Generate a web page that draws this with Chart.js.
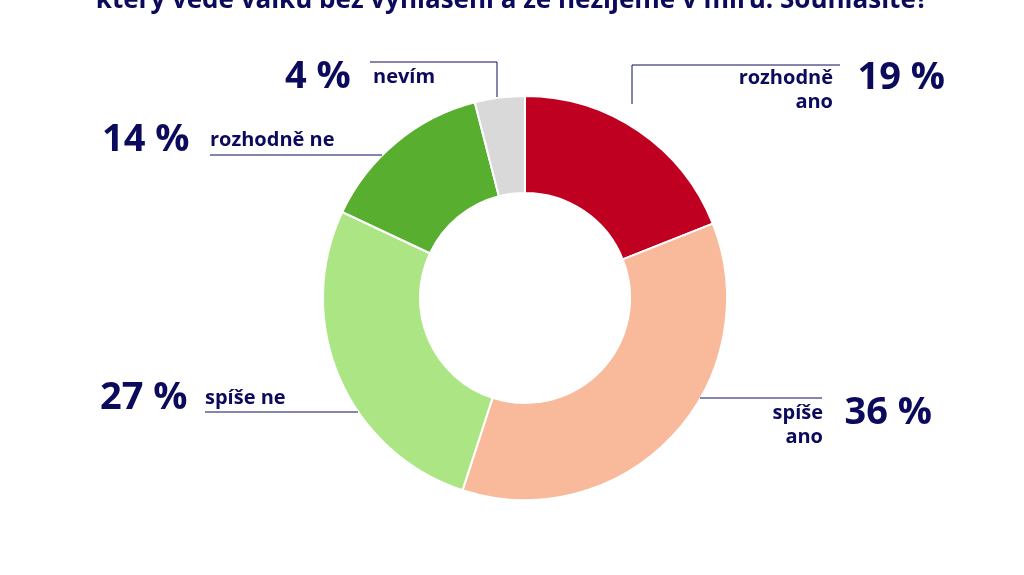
<!DOCTYPE html>
<html>
<head>
<meta charset="utf-8">
<script src="https://cdn.jsdelivr.net/npm/chart.js@4/dist/chart.umd.min.js"></script>
<style>
  html, body { margin: 0; padding: 0; background: #fff; }
  #wrap { width: 1024px; height: 575px; position: relative; }
</style>
</head>
<body>
<div id="wrap"><canvas id="pie"></canvas></div>
<script>
const categories = ['rozhodně ano', 'spíše ano', 'spíše ne', 'rozhodně ne', 'nevím'];
const values = [19, 36, 27, 14, 4];
const colors = ['#c00020', '#f9b99b', '#abe584', '#58ae2e', '#d9d9d9'];
const title = 'který vede válku bez vyhlášení a že nežijeme v míru. Souhlasíte?';

const navy = '#0b0a5c';

// label placement: [percent x, percent align, label lines, label x, label align, baseline y, leader points]
const layout = [
  { px: 945, pa: 'right', lines: ['rozhodně', 'ano'], lx: 833, la: 'right', y: 78, lead: [[840, 65], [632, 65], [632, 104]] },
  { px: 932, pa: 'right', lines: ['spíše', 'ano'], lx: 823, la: 'right', y: 413, lead: [[822, 398], [700, 398]] },
  { px: 100, pa: 'left', lines: ['spíše ne'], lx: 205, la: 'left', y: 398, lead: [[205, 412], [358, 412]] },
  { px: 102, pa: 'left', lines: ['rozhodně ne'], lx: 210, la: 'left', y: 140, lead: [[210, 155], [382, 155]] },
  { px: 285, pa: 'left', lines: ['nevím'], lx: 373, la: 'left', y: 77, lead: [[370, 62], [497, 62], [497, 97]] }
];

const labelPlugin = {
  id: 'labels',
  afterDraw(chart) {
    const c = chart.ctx;
    c.save();
    c.fillStyle = navy;
    c.textAlign = 'center';
    c.textBaseline = 'alphabetic';
    c.font = 'bold 26px "Open Sans", sans-serif';
    c.fillText(title, 512, 8);
    c.strokeStyle = navy;
    c.lineWidth = 1;
    layout.forEach((l, i) => {
      c.beginPath();
      l.lead.forEach((p, j) => j ? c.lineTo(p[0], p[1]) : c.moveTo(p[0], p[1]));
      c.stroke();
      c.font = 'bold 38px "Open Sans", sans-serif';
      c.textAlign = l.pa;
      c.textBaseline = 'middle';
      c.fillText(values[i] + ' %', l.px, l.y);
      c.font = 'bold 20px "Open Sans", sans-serif';
      c.textAlign = l.la;
      l.lines.forEach((t, k) => c.fillText(t, l.lx, l.y + k * 24));
    });
    c.restore();
  }
};

new Chart(document.getElementById('pie'), {
  type: 'doughnut',
  data: {
    labels: categories,
    datasets: [{ data: values, backgroundColor: colors, borderColor: '#fff', borderWidth: 2 }]
  },
  options: {
    responsive: true,
    maintainAspectRatio: false,
    animation: false,
    cutout: '52%',
    layout: { padding: { top: 95, bottom: 74, left: 322, right: 296 } },
    plugins: { legend: { display: false }, tooltip: { enabled: false } }
  },
  plugins: [labelPlugin]
});
</script>
</body>
</html>
